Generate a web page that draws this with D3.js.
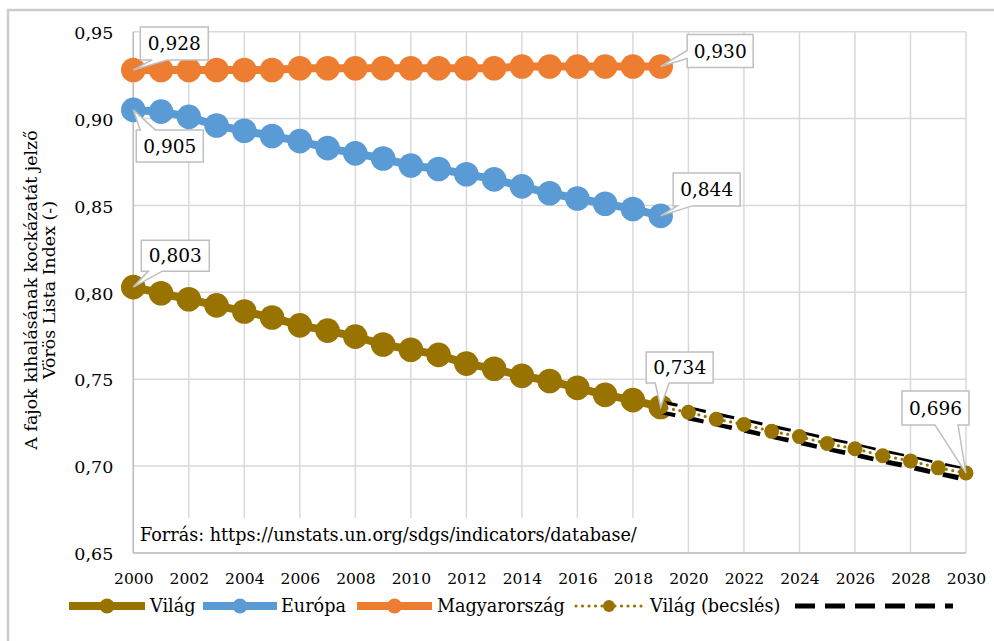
<!DOCTYPE html>
<html>
<head>
<meta charset="utf-8">
<script src="https://cdn.jsdelivr.net/npm/d3@7"></script>
<style>
  body { margin: 0; background: #fff; }
  svg { display: block; font-family: "DejaVu Serif", serif; }
</style>
</head>
<body>
<svg id="chart" width="994" height="641"></svg>
<script>
// ---- Data: Red List Index (Vörös Lista Index) ----
const years = [2000, 2001, 2002, 2003, 2004, 2005, 2006, 2007, 2008, 2009,
               2010, 2011, 2012, 2013, 2014, 2015, 2016, 2017, 2018, 2019];
const vilag = [0.803, 0.7995, 0.796, 0.7925, 0.789, 0.7855, 0.781, 0.778, 0.7745, 0.770,
               0.767, 0.764, 0.759, 0.756, 0.752, 0.749, 0.745, 0.741, 0.738, 0.734];
const europa = [0.905, 0.904, 0.901, 0.896, 0.893, 0.890, 0.887, 0.883, 0.880, 0.877,
                0.873, 0.871, 0.868, 0.865, 0.861, 0.857, 0.854, 0.851, 0.848, 0.844];
const magyar = [0.928, 0.928, 0.928, 0.928, 0.928, 0.928, 0.929, 0.929, 0.929, 0.929,
                0.929, 0.929, 0.929, 0.929, 0.930, 0.930, 0.930, 0.930, 0.930, 0.930];
const becslesYears = [2019, 2020, 2021, 2022, 2023, 2024, 2025, 2026, 2027, 2028, 2029, 2030];
const becsles = [0.734, 0.731, 0.727, 0.724, 0.720, 0.717, 0.713, 0.710, 0.706, 0.703, 0.699, 0.696];
const trendYears = [2019, 2030];
const trend = [0.734, 0.695];

const xTicks = [2000, 2002, 2004, 2006, 2008, 2010, 2012, 2014, 2016, 2018,
                2020, 2022, 2024, 2026, 2028, 2030];
const yTicks = [0.65, 0.70, 0.75, 0.80, 0.85, 0.90, 0.95];
const legendNames = ["Világ", "Európa", "Magyarország", "Világ (becslés)", ""];
const titleLines = ["A fajok kihalásának kockázatát jelző", "Vörös Lista Index (-)"];
const sourceText = "Forrás: https://unstats.un.org/sdgs/indicators/database/";

// ---- Styling ----
const C_VILAG = "#997300", C_EUROPA = "#5b9bd5", C_MAGYAR = "#ed7d31";
const GRID = "#d9d9d9", AXIS = "#bfbfbf";

const svg = d3.select("#chart");
const huLocale = d3.formatLocale({decimal: ",", thousands: " ", grouping: [3], currency: ["", " Ft"]});
const f2 = huLocale.format(".2f"), f3 = huLocale.format(".3f");

const x = d3.scaleLinear().domain([2000, 2030]).range([133.3, 966]);
const y = d3.scaleLinear().domain([0.65, 0.95]).range([553, 31.7]);

// outer frame
svg.append("rect").attr("x", 8).attr("y", 10).attr("width", 1000).attr("height", 700)
  .attr("fill", "#fff").attr("stroke", "#cbcbcb").attr("stroke-width", 2.5);

// gridlines
const grid = svg.append("g");
grid.selectAll("line.h").data(yTicks).join("line")
  .attr("x1", x(2000)).attr("x2", x(2030))
  .attr("y1", d => y(d)).attr("y2", d => y(d))
  .attr("stroke", GRID).attr("stroke-width", 1.5);
grid.selectAll("line.v").data(xTicks).join("line")
  .attr("x1", d => x(d)).attr("x2", d => x(d))
  .attr("y1", y(0.95)).attr("y2", y(0.65))
  .attr("stroke", GRID).attr("stroke-width", 1.5);

// source note with white backing
svg.append("rect").attr("x", 134.5).attr("y", 518).attr("width", 511).attr("height", 34)
  .attr("fill", "#fff");
svg.append("text").attr("x", 140).attr("y", 541).attr("font-size", 17.6).attr("fill", "#000")
  .text(sourceText);

// axis lines
svg.append("line").attr("x1", x(2000)).attr("x2", x(2000)).attr("y1", y(0.95)).attr("y2", y(0.65))
  .attr("stroke", AXIS).attr("stroke-width", 1.5);
svg.append("line").attr("x1", x(2000)).attr("x2", x(2030)).attr("y1", y(0.65)).attr("y2", y(0.65))
  .attr("stroke", AXIS).attr("stroke-width", 1.5);

// axes (labels only)
const yAxis = svg.append("g").attr("transform", `translate(${x(2000)},0)`)
  .call(d3.axisLeft(y).tickValues(yTicks).tickFormat(f2).tickSize(0).tickPadding(20));
yAxis.select(".domain").remove();
yAxis.selectAll("text").attr("font-family", "DejaVu Serif").attr("font-size", 17.5)
  .attr("fill", "#000").attr("dy", "0.38em");

const xAxis = svg.append("g").attr("transform", `translate(0,${y(0.65)})`)
  .call(d3.axisBottom(x).tickValues(xTicks).tickFormat(d3.format("d")).tickSize(0).tickPadding(0));
xAxis.select(".domain").remove();
xAxis.selectAll("text").attr("font-family", "DejaVu Serif").attr("font-size", 15.5)
  .attr("fill", "#000").attr("dy", null).attr("y", 31);

// y-axis title
const title = svg.append("text").attr("transform", "translate(0,290) rotate(-90)")
  .attr("text-anchor", "middle").attr("font-size", 17.4).attr("fill", "#000");
title.append("tspan").attr("x", 0).attr("y", 37).text(titleLines[0]);
title.append("tspan").attr("x", 0).attr("y", 55).text(titleLines[1]);

// main series
const line = d3.line().x(d => x(d[0])).y(d => y(d[1]));
function drawSeries(vals, color) {
  const pts = years.map((yr, i) => [yr, vals[i]]);
  const g = svg.append("g");
  g.append("path").attr("d", line(pts)).attr("fill", "none")
    .attr("stroke", color).attr("stroke-width", 8).attr("stroke-linejoin", "round");
  g.selectAll("circle").data(pts).join("circle")
    .attr("cx", d => x(d[0])).attr("cy", d => y(d[1])).attr("r", 12.3).attr("fill", color);
}
drawSeries(magyar, C_MAGYAR);
drawSeries(europa, C_EUROPA);
drawSeries(vilag, C_VILAG);

// trend (black dashed) and estimate series
const trendPts = trendYears.map((yr, i) => [yr, trend[i]]);
svg.append("path").attr("d", line(trendPts)).attr("fill", "none")
  .attr("stroke", "#000").attr("stroke-width", 14).attr("stroke-dasharray", "16,13");
const estPts = becslesYears.map((yr, i) => [yr, becsles[i]]);
svg.append("path").attr("d", line(estPts)).attr("fill", "none")
  .attr("stroke", "#fff").attr("stroke-width", 6.5);
svg.append("path").attr("d", line(estPts)).attr("fill", "none")
  .attr("stroke", C_VILAG).attr("stroke-width", 3.2).attr("stroke-linecap", "round")
  .attr("stroke-dasharray", "0,6.5");
svg.selectAll("circle.est").data(estPts).join("circle").attr("class", "est")
  .attr("cx", d => x(d[0])).attr("cy", d => y(d[1])).attr("r", 7.5).attr("fill", C_VILAG);

// data callouts
const callouts = [
  {yr: 2000, v: magyar[0], dx: 7, dy: -43, w: 68, h: 33, side: "bottom", p1: 12, p2: 27},
  {yr: 2000, v: europa[0], dx: 3, dy: 20, w: 67, h: 32, side: "top", p1: 4, p2: 19},
  {yr: 2000, v: vilag[0], dx: 8, dy: -47, w: 68, h: 31, side: "bottom", p1: 7, p2: 21},
  {yr: 2019, v: magyar[19], dx: 26.5, dy: -32, w: 66, h: 33, side: "left", p1: 16, p2: 24},
  {yr: 2019, v: europa[19], dx: 12.5, dy: -43, w: 67, h: 33, side: "bottom", p1: 4, p2: 19},
  {yr: 2019, v: vilag[19], dx: -14.5, dy: -55, w: 67, h: 31, side: "bottom", p1: 9, p2: 23},
  {yr: 2030, v: becsles[11], dx: -64, dy: -82, w: 67, h: 34, side: "bottom", p1: 33, p2: 56}
];
function calloutPath(c, ax, ay) {
  const L = ax + c.dx, T = ay + c.dy, R = L + c.w, B = T + c.h;
  if (c.side === "bottom")
    return `M${L},${T}H${R}V${B}H${L + c.p2}L${ax},${ay}L${L + c.p1},${B}H${L}Z`;
  if (c.side === "top")
    return `M${L},${T}H${L + c.p1}L${ax},${ay}L${L + c.p2},${T}H${R}V${B}H${L}Z`;
  return `M${L},${T}H${R}V${B}H${L}V${T + c.p2}L${ax},${ay}L${L},${T + c.p1}Z`;
}
const cg = svg.append("g");
callouts.forEach(c => {
  const ax = x(c.yr), ay = y(c.v);
  cg.append("path").attr("d", calloutPath(c, ax, ay))
    .attr("fill", "#fff").attr("stroke", "#bfbfbf").attr("stroke-width", 1.5)
    .attr("stroke-linejoin", "miter");
  cg.append("text").attr("x", ax + c.dx + c.w / 2).attr("y", ay + c.dy + c.h / 2)
    .attr("dy", "0.36em").attr("text-anchor", "middle").attr("font-size", 18.5).attr("fill", "#000")
    .text(f3(c.v));
});

// legend
const lg = svg.append("g").attr("transform", "translate(0,606)");
const solidItems = [
  {name: legendNames[0], color: C_VILAG, x0: 69, x1: 145, tx: 150},
  {name: legendNames[1], color: C_EUROPA, x0: 203, x1: 277, tx: 281},
  {name: legendNames[2], color: C_MAGYAR, x0: 357, x1: 432, tx: 437}
];
solidItems.forEach(it => {
  lg.append("line").attr("x1", it.x0).attr("x2", it.x1).attr("y1", 0).attr("y2", 0)
    .attr("stroke", it.color).attr("stroke-width", 8);
  lg.append("circle").attr("cx", (it.x0 + it.x1) / 2).attr("cy", 0).attr("r", 7.5).attr("fill", it.color);
  lg.append("text").attr("x", it.tx).attr("y", 0).attr("dy", "0.35em").attr("font-size", 17.6)
    .attr("fill", "#000").text(it.name);
});
lg.append("line").attr("x1", 576).attr("x2", 643).attr("y1", 0).attr("y2", 0)
  .attr("stroke", C_VILAG).attr("stroke-width", 3.2).attr("stroke-linecap", "round")
  .attr("stroke-dasharray", "0,6.5");
lg.append("circle").attr("cx", 609).attr("cy", 0).attr("r", 6).attr("fill", C_VILAG);
lg.append("text").attr("x", 650).attr("y", 0).attr("dy", "0.35em").attr("font-size", 17.6)
  .attr("fill", "#000").text(legendNames[3]);
lg.append("line").attr("x1", 795).attr("x2", 953).attr("y1", 0).attr("y2", 0)
  .attr("stroke", "#000").attr("stroke-width", 5).attr("stroke-dasharray", "20,10");
</script>
</body>
</html>
